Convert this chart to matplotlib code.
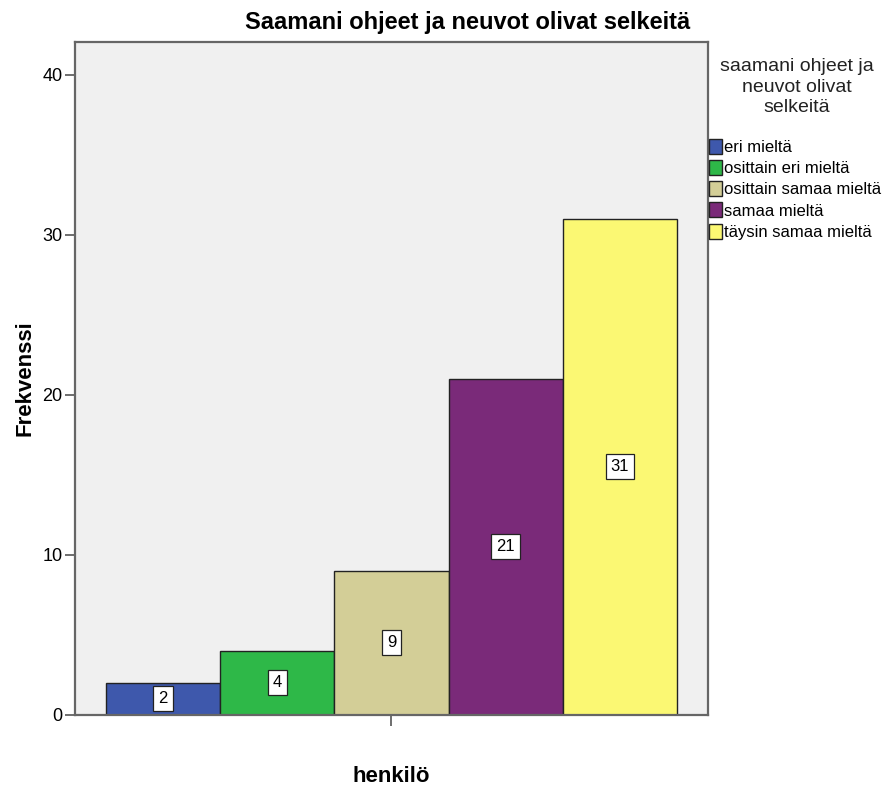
import matplotlib
matplotlib.use("Agg")
import matplotlib.pyplot as plt
from matplotlib.patches import Patch

plt.rcParams['font.family'] = ['Liberation Sans', 'DejaVu Sans']

# Response categories and counts
categories = ["eri mieltä", "osittain eri mieltä", "osittain samaa mieltä",
              "samaa mieltä", "täysin samaa mieltä"]
counts = [2, 4, 9, 21, 31]
colors = ["#3E58AC", "#2EB848", "#D3CE97", "#7A2A79", "#FBF873"]
yticks = [0, 10, 20, 30, 40]

W, H = 883, 789
fig = plt.figure(figsize=(W / 100, H / 100), dpi=100)
ax = fig.add_axes([0.0849, 0.0938, 0.7169, 0.853])
ax.set_facecolor("#F0F0F0")

xs = list(range(len(counts)))
ax.bar(xs, counts, width=1.0, color=colors, edgecolor="#222222", linewidth=1.0, zorder=2)

# value boxes at mid-height of each bar
for x, v in zip(xs, counts):
    ax.text(x, v / 2, str(v), ha="center", va="center", fontsize=12, zorder=3,
            bbox=dict(boxstyle="square,pad=0.3", fc="white", ec="#222222", lw=0.9))

ax.set_xlim(-0.771, 4.771)
ax.set_ylim(0, 42.06)
ax.set_yticks(yticks)
ax.set_xticks([2])
ax.set_xticklabels([""])
ax.tick_params(axis="y", length=7, width=1.2, color="#555555", labelsize=13, pad=2)
ax.tick_params(axis="x", length=8, width=1.2, color="#555555")

for side in ["left", "top", "right", "bottom"]:
    ax.spines[side].set_color("#666666")
    ax.spines[side].set_linewidth(1.6)

# titles and axis labels placed in figure pixels
fig.text(468 / W, 1 - 22 / H, "Saamani ohjeet ja neuvot olivat selkeitä",
         fontsize=17, fontweight="bold", ha="center", va="center")
fig.text(25 / W, 1 - 378 / H, "Frekvenssi", fontsize=16, fontweight="bold",
         rotation=90, ha="center", va="center")
fig.text(391 / W, 1 - 776 / H, "henkilö", fontsize=16, fontweight="bold",
         ha="center", va="center")

# legend on the right side of the plot
fig.text(797 / W, 1 - 87 / H, "saamani ohjeet ja\nneuvot olivat\nselkeitä",
         fontsize=14, ha="center", va="center", color="#222222", linespacing=1.3)
handles = [Patch(facecolor=c, edgecolor="#222222", linewidth=1.0) for c in colors]
leg = fig.legend(handles, categories, loc="upper left",
                 bbox_to_anchor=(709 / W, 1 - 139 / H), frameon=False, fontsize=12,
                 handlelength=0.75, handleheight=1.0, handletextpad=0.15,
                 labelspacing=0.3, borderaxespad=0, borderpad=0)

fig.savefig("out.png", dpi=100)
